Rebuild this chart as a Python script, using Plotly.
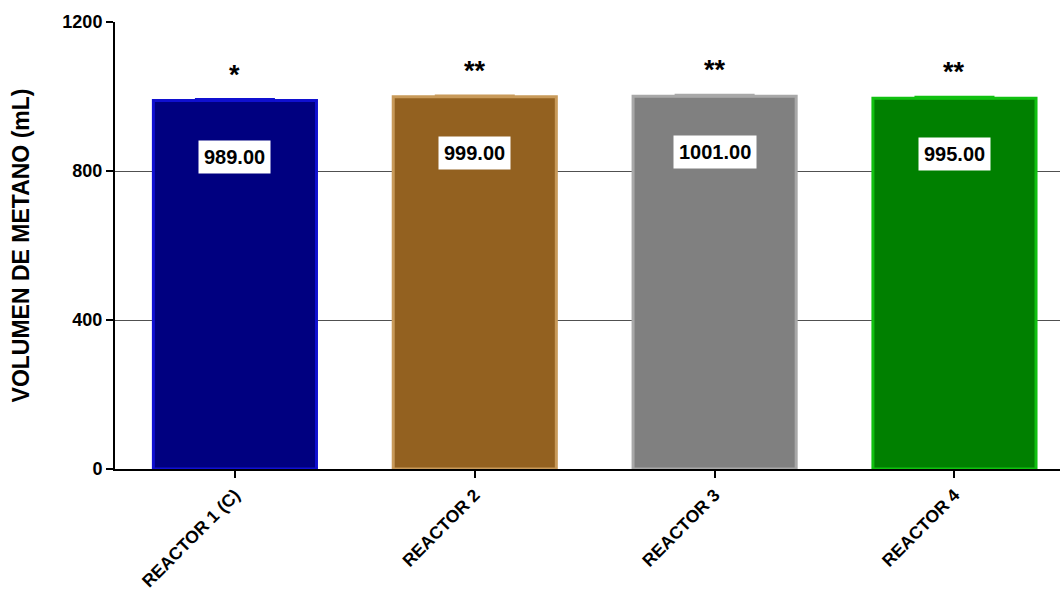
import plotly.graph_objects as go

# Data
reactors = ["REACTOR 1 (C)", "REACTOR 2", "REACTOR 3", "REACTOR 4"]
methane_ml = [989.0, 999.0, 1001.0, 995.0]
error_ml = [4.0, 4.0, 4.0, 4.0]
significance = ["*", "**", "**", "**"]
y_ticks = [0, 400, 800, 1200]

fill_colors = ["#000080", "#936120", "#808080", "#008000"]
edge_colors = ["#1010D0", "#C89A5A", "#A8A8A8", "#10C010"]

FONT = "Liberation Sans, Arial, sans-serif"

fig = go.Figure()

for i, (name, val) in enumerate(zip(reactors, methane_ml)):
    fig.add_trace(go.Bar(
        x=[name], y=[val],
        width=0.68,
        marker=dict(color=fill_colors[i], line=dict(color=edge_colors[i], width=3)),
        error_y=dict(type="data", symmetric=False, array=[error_ml[i]], arrayminus=[0],
                     color=edge_colors[i], thickness=2, width=40),
        showlegend=False,
        hoverinfo="skip",
    ))

    # value box inside the bar
    fig.add_annotation(
        x=name, y=val, yshift=-56,
        text=f"{val:.2f}", showarrow=False,
        font=dict(family=FONT, size=20, color="black", weight="bold"),
        bgcolor="white", borderpad=5,
    )
    # significance marks above the bar
    fig.add_annotation(
        x=name, y=val, yshift=26,
        text=significance[i], showarrow=False,
        font=dict(family=FONT, size=27, color="black", weight="bold"),
    )

fig.update_layout(
    width=1060, height=595,
    margin=dict(l=115, r=0, t=22, b=126),
    plot_bgcolor="white", paper_bgcolor="white",
    font=dict(family=FONT, color="black"),
)

fig.update_xaxes(
    range=[-0.5, 3.44],
    automargin=False,
    showline=True, linecolor="black", linewidth=2,
    ticks="outside", ticklen=7, tickwidth=2, tickcolor="black",
    tickangle=-45,
    tickfont=dict(family=FONT, size=17.5, color="black", weight="bold"),
    showgrid=False,
)

fig.update_yaxes(
    range=[0, 1200],
    automargin=False,
    tickvals=y_ticks,
    showline=True, linecolor="black", linewidth=2,
    ticks="outside", ticklen=7, tickwidth=2, tickcolor="black",
    tickfont=dict(family=FONT, size=18, color="black", weight="bold"),
    showgrid=True, gridcolor="#505050", gridwidth=1,
    zeroline=False,
    title=dict(text="VOLUMEN DE METANO (mL)", standoff=26,
               font=dict(family=FONT, size=23, color="black", weight="bold")),
)

fig.write_html("out.html")
